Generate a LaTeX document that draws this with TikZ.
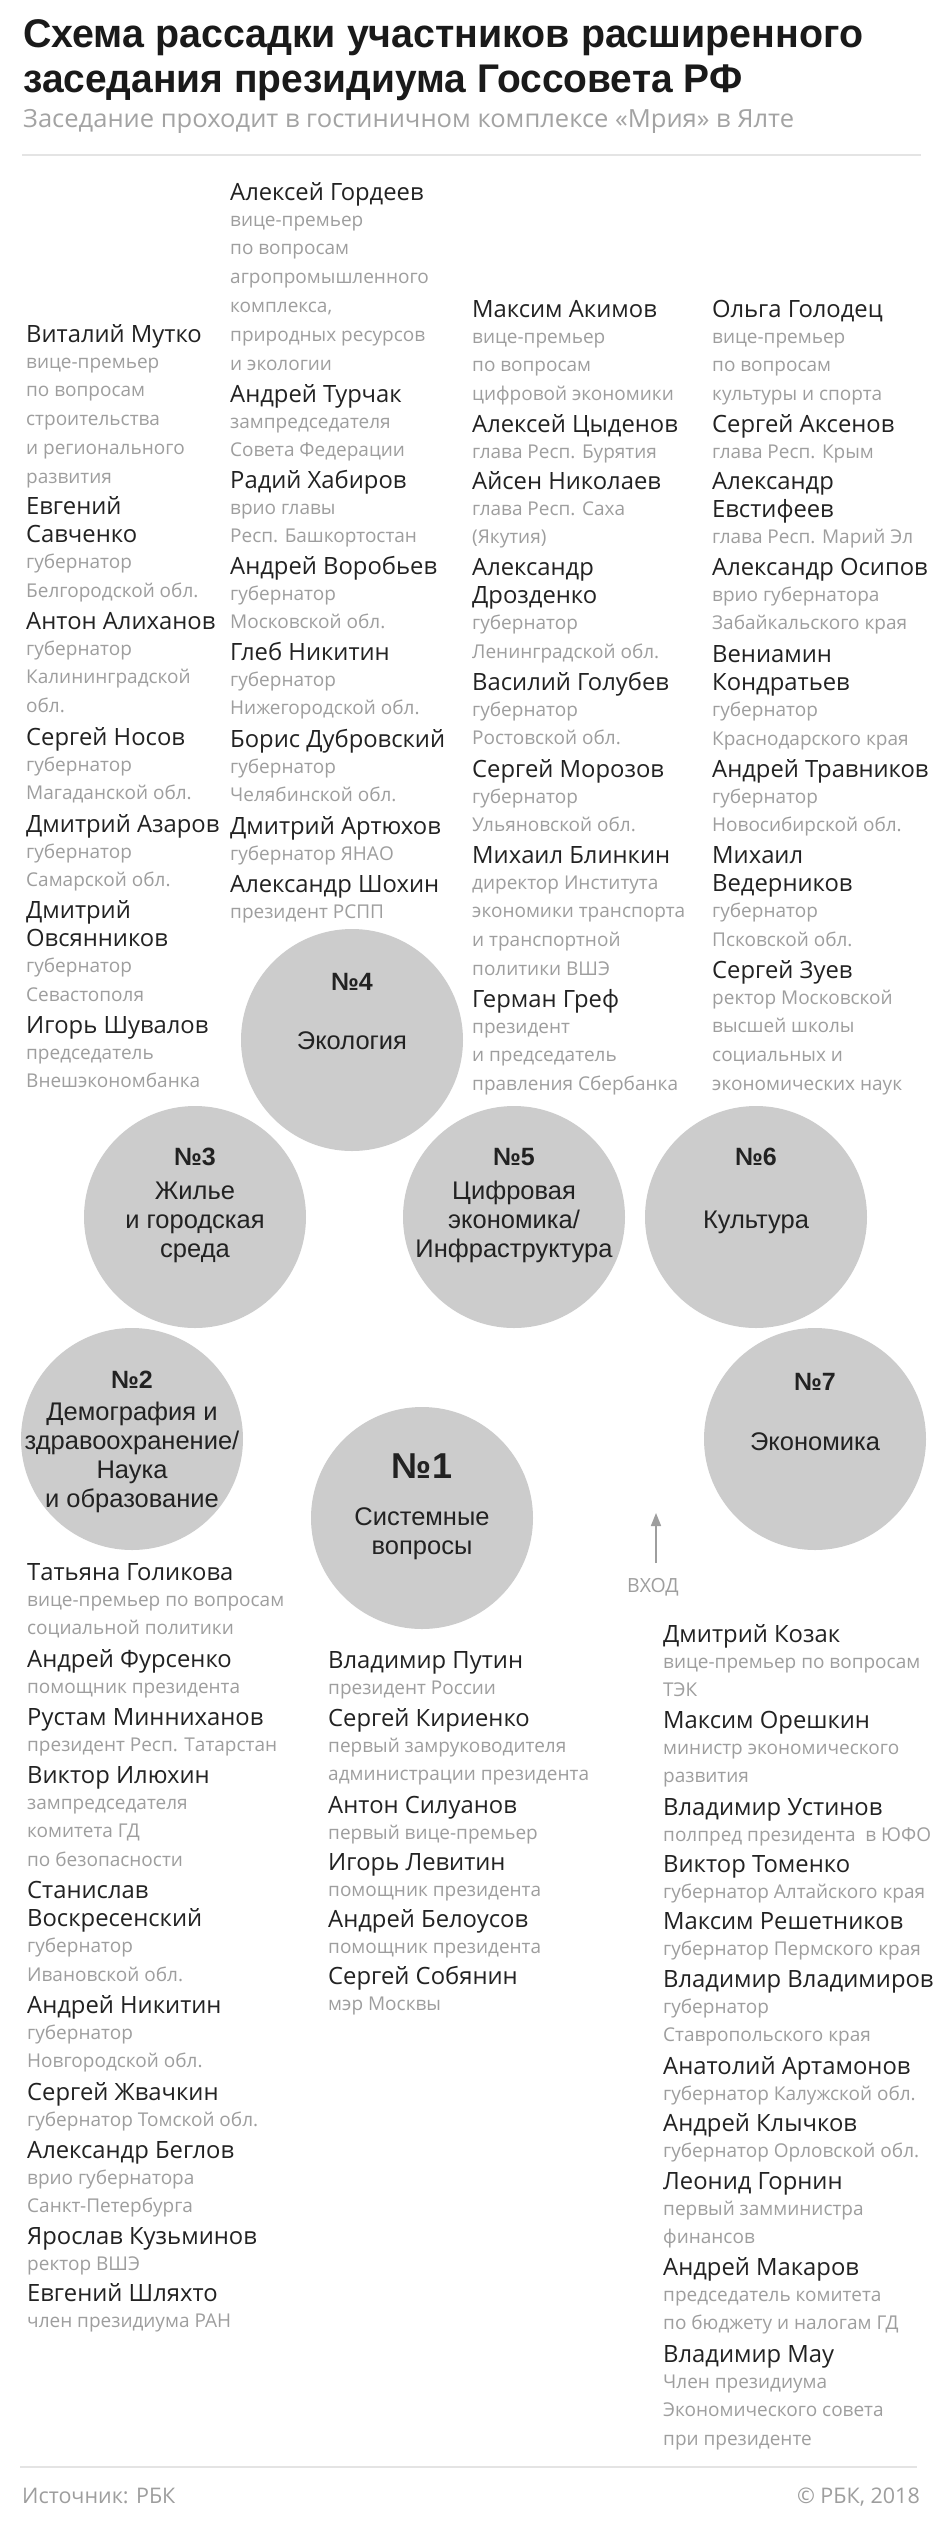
\documentclass[tikz,border=0pt]{standalone}
\usepackage{fontspec}
\usepackage{graphicx}
\setmainfont{Open Sans}
\newfontfamily\tfont{Liberation Sans}
\usetikzlibrary{arrows.meta}

\definecolor{namec}{HTML}{222222}
\definecolor{descc}{HTML}{9E9E9E}
\definecolor{circc}{HTML}{CCCCCC}
\definecolor{subc}{HTML}{A3A3A3}
\definecolor{rulec}{HTML}{E4E4E4}
\definecolor{titlec}{HTML}{1A1A1A}

\tikzset{
  nm/.style={anchor=base west, inner sep=0pt, text=namec, font=\fontsize{23.8}{23.8}\selectfont},
  ds/.style={anchor=base west, inner sep=0pt, text=descc, font=\fontsize{19}{19}\selectfont},
  seat/.style={circle, fill=circc, minimum size=222pt, inner sep=0pt},
  ctext/.style={anchor=base, inner sep=0pt, text=namec, font=\tfont\fontsize{25.5}{25.5}\selectfont},
  cnum/.style={anchor=base, inner sep=0pt, text=namec, font=\tfont\bfseries\fontsize{25}{25}\selectfont},
  cnumbig/.style={anchor=base, inner sep=0pt, text=namec, font=\tfont\bfseries\fontsize{36}{36}\selectfont},
  titletext/.style={anchor=base west, inner sep=0pt, text=titlec, font=\tfont\bfseries\fontsize{40}{40}\selectfont},
  subtext/.style={anchor=base west, inner sep=0pt, text=subc, font=\fontsize{25}{25}\selectfont},
  foot/.style={inner sep=0pt, text=descc, font=\fontsize{21.5}{21.5}\selectfont},
  hrule/.style={draw=rulec, line width=2pt},
  entryarrow/.style={draw=descc, line width=1.6pt, -{Triangle[width=10pt,length=13pt]}},
}

% person with one-line name
\newcommand\person[5]{%
  \node[nm] (#1) at (#2,#3) {#4};
  \foreach \d [count=\i] in {#5} {
    \node[ds] (#1-\i) at (#2,{#3+26+28.8*(\i-1)}) {\d};
  }
}
% person with two-line name
\newcommand\personii[6]{%
  \node[nm] (#1) at (#2,#3) {#4};
  \node[nm] (#1-n) at (#2,{#3+28.5}) {#5};
  \foreach \d [count=\i] in {#6} {
    \node[ds] (#1-\i) at (#2,{#3+28.5+26+28.8*(\i-1)}) {\d};
  }
}

\begin{document}
\begin{tikzpicture}[x=1pt,y=-1pt]
\useasboundingbox (0,0) rectangle (945,2521);
\fill[white] (0,0) rectangle (945,2521);

% ---------- header ----------
\node[titletext] (title1) at (23,48) {\resizebox{840pt}{\height}{Схема рассадки участников расширенного}};
\node[titletext] (title2) at (23,93) {\resizebox{719pt}{\height}{заседания президиума Госсовета РФ}};
\node[subtext] (subtitle) at (23,128) {\resizebox{771pt}{\height}{Заседание проходит в гостиничном комплексе «Мрия» в Ялте}};
\coordinate (ruleTL) at (22,155);
\coordinate (ruleTR) at (921,155);
\draw[hrule] (ruleTL) -- (ruleTR);

% ---------- column A ----------
\person{mutko}{26}{342}{Виталий Мутко}{вице-премьер, по вопросам, строительства, и регионального, развития}
\personii{savchenko}{26}{514}{Евгений}{Савченко}{губернатор, Белгородской обл.}
\person{alikhanov}{26}{629}{Антон Алиханов}{губернатор, Калининградской, обл.}
\person{nosov}{26}{745}{Сергей Носов}{губернатор, Магаданской обл.}
\person{azarov}{26}{832}{Дмитрий Азаров}{губернатор, Самарской обл.}
\personii{ovsyannikov}{26}{918}{Дмитрий}{Овсянников}{губернатор, Севастополя}
\person{shuvalov}{26}{1033}{Игорь Шувалов}{председатель, Внешэкономбанка}

% ---------- column B ----------
\person{gordeev}{230}{200}{Алексей Гордеев}{вице-премьер, по вопросам, агропромышленного, {комплекса,}, природных ресурсов, и экологии}
\person{turchak}{230}{402}{Андрей Турчак}{зампредседателя, Совета Федерации}
\person{khabirov}{230}{488}{Радий Хабиров}{врио главы, Респ. Башкортостан}
\person{vorobyev}{230}{574}{Андрей Воробьев}{губернатор, Московской обл.}
\person{gnikitin}{230}{660}{Глеб Никитин}{губернатор, Нижегородской обл.}
\person{dubrovsky}{230}{747}{Борис Дубровский}{губернатор, Челябинской обл.}
\person{artyukhov}{230}{834}{Дмитрий Артюхов}{губернатор ЯНАО}
\person{shokhin}{230}{892}{Александр Шохин}{президент РСПП}

% ---------- column C ----------
\person{akimov}{472}{317}{Максим Акимов}{вице-премьер, по вопросам, цифровой экономики}
\person{tsydenov}{472}{432}{Алексей Цыденов}{глава Респ. Бурятия}
\person{nikolaev}{472}{489}{Айсен Николаев}{глава Респ. Саха, (Якутия)}
\personii{drozdenko}{472}{575}{Александр}{Дрозденко}{губернатор, Ленинградской обл.}
\person{golubev}{472}{690}{Василий Голубев}{губернатор, Ростовской обл.}
\person{morozov}{472}{777}{Сергей Морозов}{губернатор, Ульяновской обл.}
\person{blinkin}{472}{863}{Михаил Блинкин}{директор Института, экономики транспорта, и транспортной, политики ВШЭ}
\person{gref}{472}{1007}{Герман Греф}{президент, и председатель, правления Сбербанка}

% ---------- column D ----------
\person{golodets}{712}{317}{Ольга Голодец}{вице-премьер, по вопросам, культуры и спорта}
\person{aksenov}{712}{432}{Сергей Аксенов}{глава Респ. Крым}
\personii{evstifeev}{712}{489}{Александр}{Евстифеев}{глава Респ. Марий Эл}
\person{osipov}{712}{575}{Александр Осипов}{врио губернатора, Забайкальского края}
\personii{kondratyev}{712}{662}{Вениамин}{Кондратьев}{губернатор, Краснодарского края}
\person{travnikov}{712}{777}{Андрей Травников}{губернатор, Новосибирской обл.}
\personii{vedernikov}{712}{863}{Михаил}{Ведерников}{губернатор, Псковской обл.}
\person{zuev}{712}{978}{Сергей Зуев}{ректор Московской, высшей школы, социальных и, экономических наук}

% ---------- seats ----------
\node[seat] (c4) at (352,1040) {};
\node[cnum] (c4-num) at (352,990) {№4};
\node[ctext] (c4-a) at (352,1049) {Экология};

\node[seat] (c3) at (195,1217) {};
\node[cnum] (c3-num) at (195,1165) {№3};
\node[ctext] (c3-a) at (195,1199) {Жилье};
\node[ctext] (c3-b) at (195,1228) {и городская};
\node[ctext] (c3-c) at (195,1257) {среда};

\node[seat] (c5) at (514,1217) {};
\node[cnum] (c5-num) at (514,1165) {№5};
\node[ctext] (c5-a) at (514,1199) {Цифровая};
\node[ctext] (c5-b) at (514,1228) {экономика/};
\node[ctext] (c5-c) at (514,1257) {Инфраструктура};

\node[seat] (c6) at (756,1217) {};
\node[cnum] (c6-num) at (756,1165) {№6};
\node[ctext] (c6-a) at (756,1228) {Культура};

\node[seat] (c2) at (132,1439) {};
\node[cnum] (c2-num) at (132,1388) {№2};
\node[ctext] (c2-a) at (132,1420) {Демография и};
\node[ctext] (c2-b) at (132,1449) {здравоохранение/};
\node[ctext] (c2-c) at (132,1478) {Наука};
\node[ctext] (c2-d) at (132,1507) {и образование};

\node[seat] (c7) at (815,1439) {};
\node[cnum] (c7-num) at (815,1390) {№7};
\node[ctext] (c7-a) at (815,1450) {Экономика};

\node[seat] (c1) at (422,1518) {};
\node[cnumbig] (c1-num) at (422,1478) {№1};
\node[ctext] (c1-a) at (422,1525) {Системные};
\node[ctext] (c1-b) at (422,1554) {вопросы};

% ---------- entrance ----------
\node[foot, anchor=base, font=\fontsize{19.5}{19.5}\selectfont] (vhod) at (653,1592) {ВХОД};
\coordinate (entryTail) at (656,1563);
\coordinate (entryHead) at (656,1513);
\draw[entryarrow] (entryTail) -- (entryHead);

% ---------- column E ----------
\person{golikova}{27}{1580}{Татьяна Голикова}{вице-премьер по вопросам, социальной политики}
\person{fursenko}{27}{1667}{Андрей Фурсенко}{помощник президента}
\person{minnikhanov}{27}{1725}{Рустам Минниханов}{президент Респ. Татарстан}
\person{ilyukhin}{27}{1783}{Виктор Илюхин}{зампредседателя, комитета ГД, по безопасности}
\personii{voskresensky}{27}{1898}{Станислав}{Воскресенский}{губернатор, Ивановской обл.}
\person{anikitin}{27}{2013}{Андрей Никитин}{губернатор, Новгородской обл.}
\person{zhvachkin}{27}{2100}{Сергей Жвачкин}{губернатор Томской обл.}
\person{beglov}{27}{2158}{Александр Беглов}{врио губернатора, Санкт-Петербурга}
\person{kuzminov}{27}{2244}{Ярослав Кузьминов}{ректор ВШЭ}
\person{shlyakhto}{27}{2301}{Евгений Шляхто}{член президиума РАН}

% ---------- column F ----------
\person{putin}{328}{1668}{Владимир Путин}{президент России}
\person{kirienko}{328}{1726}{Сергей Кириенко}{первый замруководителя, администрации президента}
\person{siluanov}{328}{1813}{Антон Силуанов}{первый вице-премьер}
\person{levitin}{328}{1870}{Игорь Левитин}{помощник президента}
\person{belousov}{328}{1927}{Андрей Белоусов}{помощник президента}
\person{sobyanin}{328}{1984}{Сергей Собянин}{мэр Москвы}

% ---------- column G ----------
\person{kozak}{663}{1642}{Дмитрий Козак}{вице-премьер по вопросам, ТЭК}
\person{oreshkin}{663}{1728}{Максим Орешкин}{министр экономического, развития}
\person{ustinov}{663}{1815}{Владимир Устинов}{полпред президента~ в ЮФО}
\person{tomenko}{663}{1872}{Виктор Томенко}{губернатор Алтайского края}
\person{reshetnikov}{663}{1929}{Максим Решетников}{губернатор Пермского края}
\person{vladimirov}{663}{1987}{Владимир Владимиров}{губернатор, Ставропольского края}
\person{artamonov}{663}{2074}{Анатолий Артамонов}{губернатор Калужской обл.}
\person{klychkov}{663}{2131}{Андрей Клычков}{губернатор Орловской обл.}
\person{gornin}{663}{2189}{Леонид Горнин}{первый замминистра, финансов}
\person{makarov}{663}{2275}{Андрей Макаров}{председатель комитета, по бюджету и налогам ГД}
\person{mau}{663}{2362}{Владимир Мау}{Член президиума, Экономического совета, при президенте}

% ---------- footer ----------
\coordinate (ruleBL) at (20,2467);
\coordinate (ruleBR) at (917,2467);
\draw[hrule] (ruleBL) -- (ruleBR);
\node[foot, anchor=base west] (source) at (22,2503) {Источник: РБК};
\node[foot, anchor=base east] (copyright) at (920,2503) {© РБК, 2018};
\end{tikzpicture}
\end{document}
